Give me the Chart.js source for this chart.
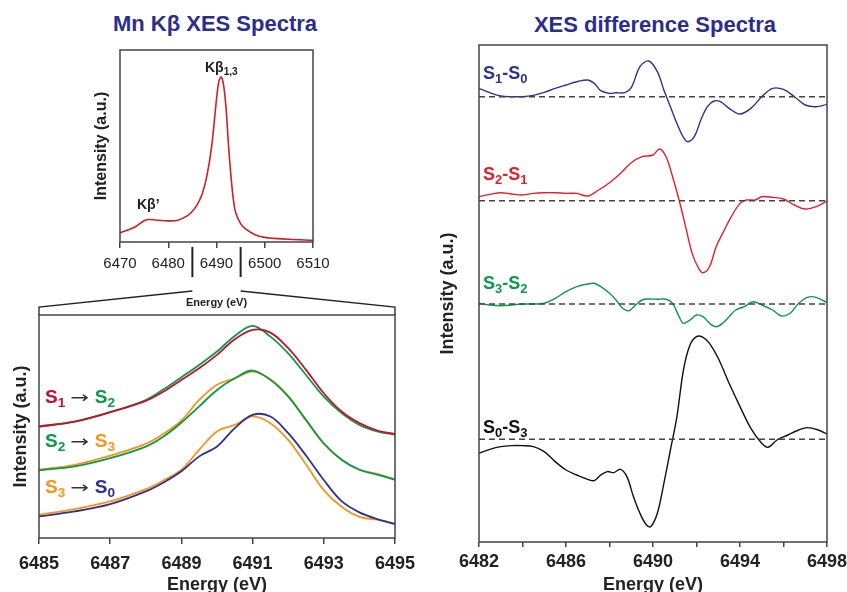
<!DOCTYPE html>
<html>
<head>
<meta charset="utf-8">
<script src="https://cdn.jsdelivr.net/npm/chart.js@4.4.1/dist/chart.umd.min.js"></script>
<style>
  html, body { margin: 0; padding: 0; background: #fff; overflow: hidden; }
  body { width: 847px; height: 592px; position: relative; font-family: 'Liberation Sans', Arial, sans-serif; }
  canvas { position: absolute; }
  .title { position: absolute; width: 400px; text-align: center; font: bold 22px 'Liberation Sans', Arial, sans-serif; line-height: 22px; color: #2b2e8c; }
  .lab { position: absolute; font: bold 18px 'Liberation Sans', Arial, sans-serif; line-height: 18px; white-space: nowrap; }
  .lab sub { font-size: 0.72em; vertical-align: -0.3em; line-height: 0; }
  .big { font-size: 19px; line-height: 19px; }
  .arr { display: inline-block; font-weight: normal; color: #333; font-family: 'DejaVu Sans', sans-serif; font-size: 16px; margin: 0 8px 0 8px; transform: scaleX(1.4); }
  .kb { font-size: 14px; line-height: 14px; color: #222; }
</style>
</head>
<body>
<div class="title" style="left:15px; top:13px;">Mn Kβ XES Spectra</div>
<div class="title" style="left:455px; top:14px;">XES difference Spectra</div>

<canvas id="overview" width="330" height="310" style="left:0; top:0;"></canvas>
<canvas id="zoomed" width="420" height="316" style="left:0; top:280px;"></canvas>
<canvas id="diff" width="417" height="596" style="left:430px; top:0;"></canvas>

<div class="lab kb" style="left:205px; top:60px;">Kβ<sub>1,3</sub></div>
<div class="lab kb" style="left:137px; top:197px;">Kβ’</div>

<div class="lab big" style="left:45px; top:387px;"><span style="color:#c8102e">S<sub>1</sub></span><span class="arr">→</span><span style="color:#0a9a4a">S<sub>2</sub></span></div>
<div class="lab big" style="left:45px; top:431px;"><span style="color:#0a9a4a">S<sub>2</sub></span><span class="arr">→</span><span style="color:#f7941d">S<sub>3</sub></span></div>
<div class="lab big" style="left:45px; top:477px;"><span style="color:#f7941d">S<sub>3</sub></span><span class="arr">→</span><span style="color:#2e3192">S<sub>0</sub></span></div>

<div class="lab" style="left:483px; top:64px; color:#2e3192;">S<sub>1</sub>-S<sub>0</sub></div>
<div class="lab" style="left:483px; top:165px; color:#e3202a;">S<sub>2</sub>-S<sub>1</sub></div>
<div class="lab" style="left:483px; top:274px; color:#0a9a4a;">S<sub>3</sub>-S<sub>2</sub></div>
<div class="lab" style="left:483px; top:418px; color:#111;">S<sub>0</sub>-S<sub>3</sub></div>

<script>
// ---- overview Kb spectrum (normalised intensity) ----
const overviewE = [6470, 6473, 6475, 6476, 6478, 6480, 6482, 6484, 6485, 6486, 6487, 6488, 6489, 6490, 6490.5, 6491, 6491.5, 6492, 6492.5, 6493, 6493.5, 6494, 6495, 6496, 6498, 6500, 6502, 6505, 6510];
const overviewI = [0.047, 0.077, 0.111, 0.117, 0.113, 0.110, 0.113, 0.137, 0.16, 0.195, 0.247, 0.343, 0.499, 0.743, 0.838, 0.859, 0.812, 0.69, 0.5, 0.343, 0.221, 0.151, 0.096, 0.068, 0.038, 0.024, 0.019, 0.014, 0.009];
const overviewTicks = { min: 6470, max: 6510, step: 10 };
const zoomRange = [6485, 6495];

// ---- zoomed Kb1,3 region, stacked pairs ----
const zoomE = [6485, 6486, 6487, 6488, 6488.5, 6489, 6489.5, 6490, 6490.5, 6491, 6491.5, 6492, 6492.5, 6493, 6493.5, 6494, 6494.5, 6495];
const s1Top = [0.5, 0.522, 0.564, 0.615, 0.657, 0.709, 0.761, 0.821, 0.891, 0.933, 0.921, 0.851, 0.754, 0.649, 0.567, 0.515, 0.482, 0.466];
const s2Top = [0.5, 0.522, 0.564, 0.619, 0.667, 0.721, 0.776, 0.836, 0.906, 0.951, 0.903, 0.828, 0.731, 0.634, 0.56, 0.507, 0.478, 0.463];
const s2Mid = [0.303, 0.321, 0.358, 0.41, 0.455, 0.518, 0.59, 0.664, 0.716, 0.751, 0.709, 0.634, 0.53, 0.425, 0.351, 0.306, 0.284, 0.261];
const s3Mid = [0.306, 0.328, 0.369, 0.422, 0.467, 0.527, 0.619, 0.687, 0.716, 0.746, 0.712, 0.637, 0.527, 0.422, 0.351, 0.306, 0.288, 0.264];
const s3Low = [0.104, 0.13, 0.164, 0.219, 0.258, 0.306, 0.396, 0.478, 0.507, 0.545, 0.515, 0.44, 0.33, 0.215, 0.14, 0.095, 0.082, 0.063];
const s0Low = [0.097, 0.119, 0.152, 0.209, 0.249, 0.299, 0.366, 0.41, 0.493, 0.552, 0.545, 0.47, 0.37, 0.26, 0.165, 0.115, 0.085, 0.063];

// ---- difference spectra (deviation from each baseline) ----
const d10E = [6482, 6482.5, 6483, 6483.5, 6484, 6484.5, 6485, 6485.5, 6486, 6486.5, 6487, 6487.3, 6487.6, 6488, 6488.3, 6488.7, 6489, 6489.4, 6489.8, 6490.2, 6490.5, 6490.8, 6491.1, 6491.4, 6491.6, 6491.9, 6492.2, 6492.5, 6492.8, 6493.1, 6493.5, 6494, 6494.5, 6495, 6495.5, 6496, 6496.5, 6497, 6497.5, 6498];
const d10V = [8.3, 4, 0.7, 0, 0, 1.3, 4.3, 8.3, 11.7, 15, 16.7, 13.3, 6, 3.3, 4, 4, 9, 30, 35.7, 25, 6.7, -10, -26.7, -40.7, -45, -40, -23.3, -10, -4.3, -5, -11.7, -17.3, -11.7, 0, 8.3, 7.3, 0, -8.3, -10, -7.7];

const d21E = [6482, 6482.5, 6483, 6483.5, 6484, 6484.5, 6485, 6485.5, 6486, 6486.5, 6487, 6487.5, 6488, 6488.5, 6489, 6489.5, 6490, 6490.3, 6490.6, 6490.9, 6491.2, 6491.5, 6491.8, 6492.1, 6492.3, 6492.6, 6492.9, 6493.2, 6493.6, 6494, 6494.3, 6494.7, 6495, 6495.5, 6496, 6496.5, 6497, 6497.5, 6498];
const d21V = [4, 6.3, 8, 6.7, 5.7, 7.3, 8, 8, 7.3, 7.3, 4.7, 10.7, 18, 27.3, 38, 44, 45.7, 51.7, 44, 24, 0.7, -26, -52.7, -67.7, -72, -66, -46, -32.7, -16, -2.7, 0.7, 0.7, 4, 3.3, 1.7, -4.3, -8.3, -6, -0.3];

const d32E = [6482, 6482.5, 6483, 6483.5, 6484, 6484.5, 6485, 6485.5, 6486, 6486.5, 6487, 6487.3, 6487.6, 6488, 6488.3, 6488.6, 6488.9, 6489.2, 6489.5, 6489.8, 6490.2, 6490.6, 6490.9, 6491.2, 6491.4, 6491.7, 6492, 6492.3, 6492.6, 6492.9, 6493.2, 6493.5, 6493.8, 6494.2, 6494.6, 6495, 6495.5, 6495.9, 6496.3, 6496.7, 6497.1, 6497.5, 6498];
const d32V = [0.7, -1, -1.7, -1, 0, 0, 0.7, 5.7, 12.3, 17.3, 20, 20.7, 17.3, 10.7, 4, -4.3, -6.7, -1, 4, 5, 4.7, 4.7, 0.7, -12.7, -19.3, -16, -11, -12.7, -19.3, -22.7, -19.3, -12.7, -6, -2.7, 2.3, -1, -6, -12, -9.3, 0.7, 6.7, 6.7, 1.3];

const d03E = [6482, 6482.5, 6483, 6483.5, 6484, 6484.5, 6485, 6485.5, 6486, 6486.5, 6487, 6487.3, 6487.6, 6487.9, 6488.2, 6488.5, 6488.8, 6489.1, 6489.4, 6489.7, 6489.9, 6490.2, 6490.5, 6490.8, 6491.1, 6491.4, 6491.7, 6492, 6492.3, 6492.6, 6493, 6493.5, 6494, 6494.5, 6495, 6495.3, 6495.7, 6496.2, 6496.7, 6497.1, 6497.6, 6498];
const d03V = [-14, -10, -7.3, -6.3, -6.3, -7.3, -12.3, -22.3, -30.7, -35.7, -40, -41.3, -35.7, -32.3, -33.3, -30, -37.3, -57.3, -74, -85.7, -87.3, -74, -44, -10.7, 22.7, 69.3, 94.3, 102.7, 102, 96, 81, 56, 32.7, 11, -4, -8, -0.7, 4.3, 9.3, 11.7, 9.3, 5.3];

// vertical offsets of the stacked difference traces
const diffOffsets = { d10: 445.3, d21: 341.3, d32: 238, d03: 102.7 };
const diffRange = { min: 6482, max: 6498 };

const FONT = "'Liberation Sans', Arial, sans-serif";

function pts(xs, ys, off) {
  off = off || 0;
  return xs.map((x, i) => ({ x: x, y: ys[i] + off }));
}

function line(data, color, width) {
  return { data: data, borderColor: color, borderWidth: width, pointRadius: 0, tension: 0.35, fill: false };
}

function dashed(xmin, xmax, y) {
  return { data: [{ x: xmin, y: y }, { x: xmax, y: y }], borderColor: '#444', borderWidth: 1.5, borderDash: [6, 4], pointRadius: 0, fill: false };
}

// draw the full rectangle round the plot area
const frame = {
  id: 'frame',
  afterDraw(chart) {
    const { ctx, chartArea: a } = chart;
    ctx.save();
    ctx.strokeStyle = '#444';
    ctx.lineWidth = 1.5;
    ctx.strokeRect(a.left, a.top, a.right - a.left, a.bottom - a.top);
    ctx.restore();
  }
};

function baseOptions(o) {
  return {
    responsive: false,
    animation: false,
    layout: { padding: o.padding },
    plugins: { legend: { display: false }, tooltip: { enabled: false } },
    scales: {
      x: {
        type: 'linear', min: o.xmin, max: o.xmax,
        // fixed height, and don't let the end labels shrink the plot area
        afterFit(s) { s.height = o.xHeight; s.paddingLeft = 0; s.paddingRight = 0; },
        grid: { drawOnChartArea: false, tickLength: o.tickLen, color: '#444', lineWidth: 1.5 },
        border: { display: false },
        ticks: {
          stepSize: o.step, autoSkip: false, maxRotation: 0, padding: o.tickPad, color: '#222',
          font: { family: FONT, size: o.tickSize, weight: o.tickWeight },
          callback: o.tickCb || (v => String(v))
        },
        title: { display: true, text: 'Energy (eV)', color: '#222', padding: 0, font: { family: FONT, size: o.xTitleSize, weight: 'bold' } }
      },
      y: {
        min: o.ymin, max: o.ymax,
        afterFit(s) { s.width = o.yWidth; },
        grid: { display: false, drawTicks: false },
        border: { display: false },
        ticks: { display: false },
        title: { display: true, text: 'Intensity (a.u.)', color: '#222', padding: 0, font: { family: FONT, size: o.yTitleSize, weight: 'bold' } }
      }
    }
  };
}

// ---------- overview ----------
const zoomMarks = {
  id: 'zoomMarks',
  afterDraw(chart) {
    const { ctx, chartArea: a, scales } = chart;
    ctx.save();
    ctx.strokeStyle = '#222';
    ctx.lineWidth = 2;
    zoomRange.forEach(v => {
      const x = scales.x.getPixelForValue(v);
      ctx.beginPath();
      ctx.moveTo(x, a.bottom + 5);
      ctx.lineTo(x, a.bottom + 35);
      ctx.stroke();
    });
    ctx.restore();
  }
};

const overview = new Chart(document.getElementById('overview'), {
  type: 'line',
  data: { datasets: [line(pts(overviewE, overviewI), '#cf2027', 1.6)] },
  options: baseOptions({
    padding: { left: 92, top: 50, right: 17, bottom: 0 },
    xmin: overviewTicks.min, xmax: overviewTicks.max, step: overviewTicks.step,
    xHeight: 68, tickLen: 6, tickPad: 7, tickSize: 15, tickWeight: 'normal', xTitleSize: 11,
    ymin: 0, ymax: 1, yWidth: 28, yTitleSize: 16
  }),
  plugins: [frame, zoomMarks]
});

// ---------- zoomed region ----------
const bracket = {
  id: 'bracket',
  afterDraw(chart) {
    const { ctx, chartArea: a } = chart;
    const sx = overview.scales.x;
    // overview canvas sits 280px higher than this one
    const y0 = 291 - 280, y1 = 307 - 280;
    ctx.save();
    ctx.strokeStyle = '#222';
    ctx.lineWidth = 1.3;
    ctx.beginPath();
    ctx.moveTo(sx.getPixelForValue(zoomRange[0]), y0);
    ctx.lineTo(a.left, y1);
    ctx.lineTo(a.left, a.top);
    ctx.moveTo(sx.getPixelForValue(zoomRange[1]), y0);
    ctx.lineTo(a.right, y1);
    ctx.lineTo(a.right, a.top);
    ctx.stroke();
    ctx.restore();
  }
};

new Chart(document.getElementById('zoomed'), {
  type: 'line',
  data: {
    datasets: [
      line(pts(zoomE, s1Top), '#c8102e', 1.8),
      line(pts(zoomE, s2Top), '#0a9a4a', 1.8),
      line(pts(zoomE, s2Mid), '#0a9a4a', 1.8),
      line(pts(zoomE, s3Mid), '#f7941d', 1.8),
      line(pts(zoomE, s0Low), '#2e3192', 1.8),
      line(pts(zoomE, s3Low), '#f7941d', 1.8)
    ]
  },
  options: baseOptions({
    padding: { left: 10, top: 35, right: 25, bottom: 0 },
    xmin: zoomRange[0], xmax: zoomRange[1], step: 2,
    xHeight: 58, tickLen: 6, tickPad: 9, tickSize: 18, tickWeight: 'bold', xTitleSize: 18,
    ymin: 0, ymax: 1, yWidth: 29, yTitleSize: 18
  }),
  plugins: [frame, bracket]
});

// ---------- difference spectra ----------
new Chart(document.getElementById('diff'), {
  type: 'line',
  data: {
    datasets: [
      dashed(diffRange.min, diffRange.max, diffOffsets.d10),
      dashed(diffRange.min, diffRange.max, diffOffsets.d21),
      dashed(diffRange.min, diffRange.max, diffOffsets.d32),
      dashed(diffRange.min, diffRange.max, diffOffsets.d03),
      line(pts(d10E, d10V, diffOffsets.d10), '#2e3192', 1.4),
      line(pts(d21E, d21V, diffOffsets.d21), '#e3202a', 1.4),
      line(pts(d32E, d32V, diffOffsets.d32), '#0a9a4a', 1.4),
      line(pts(d03E, d03V, diffOffsets.d03), '#111', 1.4)
    ]
  },
  options: baseOptions({
    padding: { left: 7, top: 45, right: 20, bottom: 0 },
    xmin: diffRange.min, xmax: diffRange.max, step: 2,
    xHeight: 54, tickLen: 5, tickPad: 4, tickSize: 18, tickWeight: 'bold', xTitleSize: 18,
    ymin: 0, ymax: 497, yWidth: 42, yTitleSize: 18,
    tickCb: v => ((v - diffRange.min) % 4 === 0 ? String(v) : '')
  }),
  plugins: [frame]
});
</script>
</body>
</html>
